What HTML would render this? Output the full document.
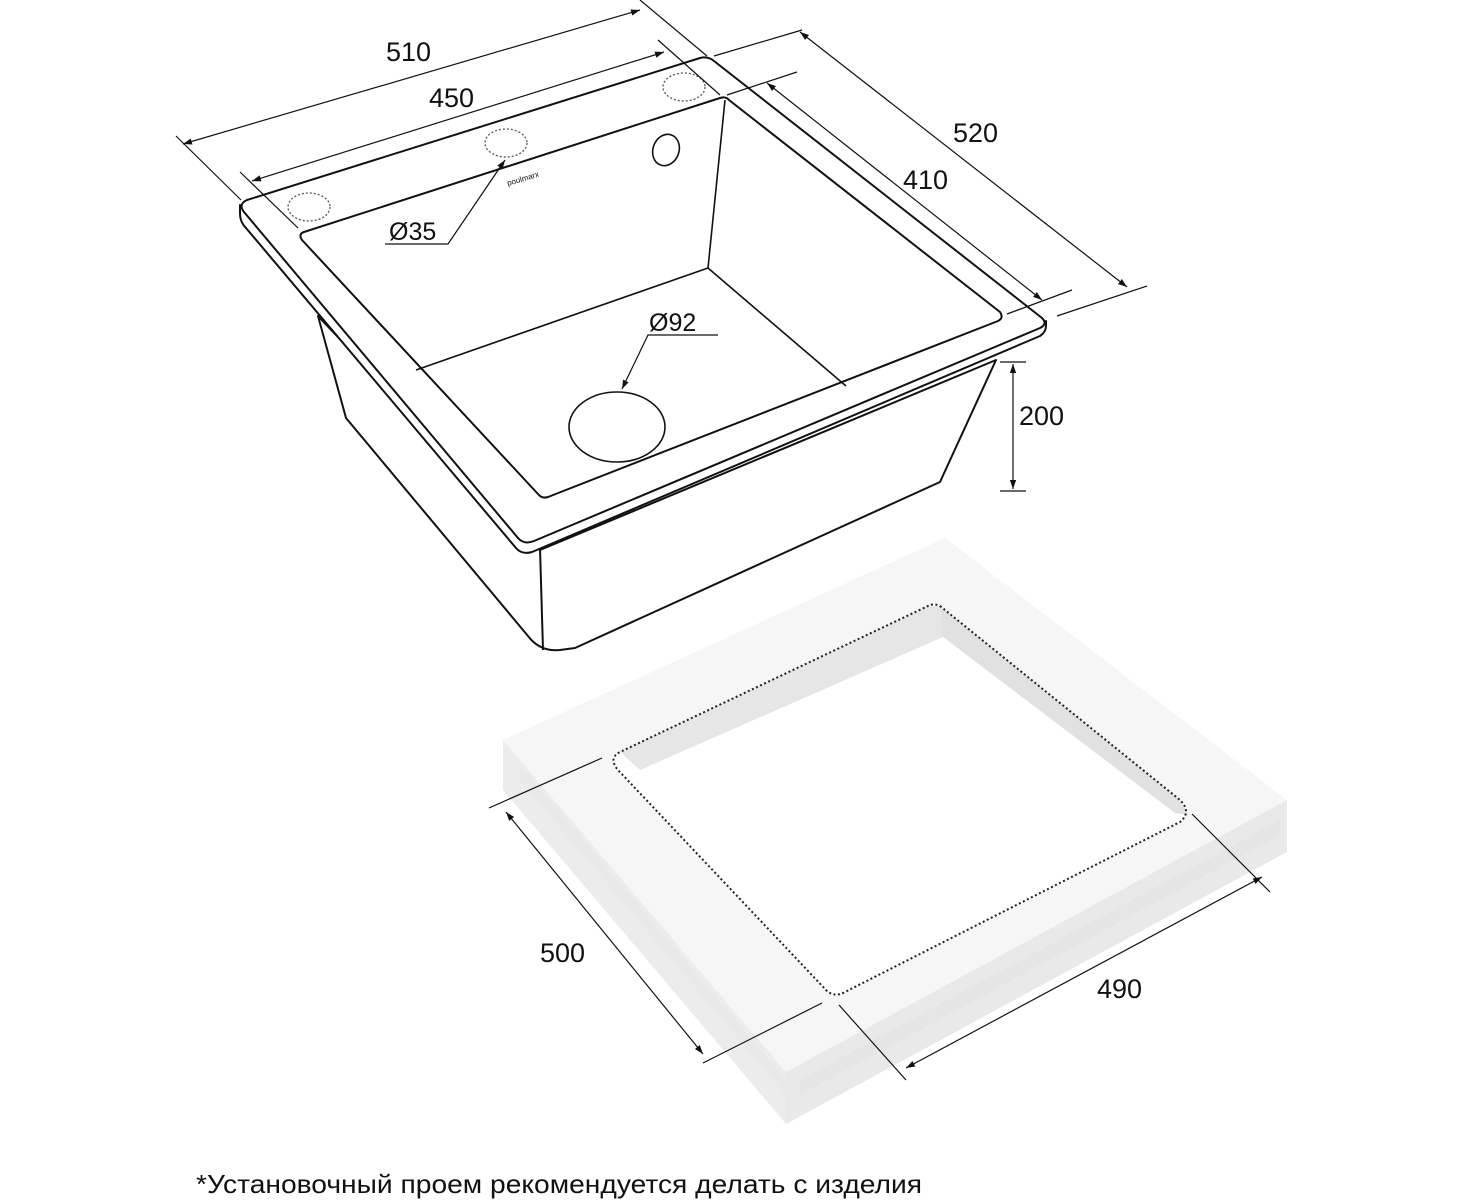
<!DOCTYPE html>
<html><head><meta charset="utf-8"><style>
html,body{margin:0;padding:0;background:#fff;}
svg{display:block;}
text{font-family:"Liberation Sans",sans-serif;fill:#111;}
</style></head><body>
<svg width="1467" height="1200" viewBox="0 0 1467 1200" xmlns="http://www.w3.org/2000/svg">
<defs>
<marker id="a" viewBox="0 0 10 10" refX="10" refY="5" markerWidth="9" markerHeight="9" orient="auto-start-reverse" markerUnits="userSpaceOnUse"><path d="M0,1.5 L10,5 L0,8.5 z" fill="#111"/></marker>
</defs>

<!-- countertop -->
<polygon points="503,740 945,538 1287,800 786,1072" fill="#f6f6f6"/>
<polygon points="503,740 786,1072 786,1124 503,790" fill="#ececec"/>
<polygon points="520,765 786,1080 786,1095 520,780" fill="#e5e5e5" opacity="0.5"/>
<polygon points="786,1072 1287,800 1287,852 786,1124" fill="#e9e9e9"/>
<polygon points="800,1080 1280,820 1280,835 800,1095" fill="#e2e2e2" opacity="0.5"/>
<!-- cutout -->
<path d="M940,606 L1180,800 Q1192,812 1180,822 L845,992 Q834,998 826,990 L618,770 Q608,758 620,752 L928,606 Q934,603 940,606 z" fill="#fff"/>
<polygon points="620,752 928,606 940,606 943,637 640,770" fill="#e6e6e6"/>
<polygon points="940,606 1180,800 1188,815 1175,813 943,637" fill="#e1e1e1"/>
<path d="M940,606 L1180,800 Q1192,812 1180,822 L845,992 Q834,998 826,990 L618,770 Q608,758 620,752 L928,606 Q934,603 940,606 z" fill="none" stroke="#222" stroke-width="2" stroke-dasharray="2,2.5"/>

<!-- countertop dims -->
<g stroke="#111" stroke-width="1.2" fill="none">
<line x1="489" y1="808" x2="602" y2="758"/>
<line x1="703" y1="1063" x2="822" y2="1003"/>
<line x1="506" y1="812" x2="703" y2="1054" marker-start="url(#a)" marker-end="url(#a)"/>
<line x1="839" y1="1005" x2="906" y2="1080"/>
<line x1="1192" y1="814" x2="1270" y2="892"/>
<line x1="906" y1="1068" x2="1262" y2="877" marker-start="url(#a)" marker-end="url(#a)"/>
</g>
<text x="540" y="962" font-size="27">500</text>
<text x="1097" y="998" font-size="27">490</text>

<!-- sink body -->
<g stroke="#111" stroke-width="2" fill="#fff" stroke-linejoin="round">
<path d="M318,316 L346,418 L528,636 Q540,652 560,650 L575,648 L940,482 L996,360 L540,550 z"/>
<line x1="540" y1="548" x2="543" y2="650"/>
<path d="M240,205 L240,214 Q240,222 246,228 L516,548 Q522,555 532,552 L1040,336 Q1046,332 1046,326 L1046,321 L520,540 z"/>
<path d="M247,200 L700,58 Q708,56 714,61 L1042,318 Q1048,324 1040,328 L534,541 Q524,545 518,538 L244,212 Q238,204 247,200 z"/>
<path d="M304,232 L720,98 Q726,96 729,100 L1000,312 Q1004,318 998,321 L548,497 Q542,499 538,494 L302,240 Q298,234 304,232 z"/>
</g>
<g stroke="#111" stroke-width="1.6" fill="none">
<line x1="725" y1="100" x2="708" y2="268"/>
<line x1="708" y1="268" x2="416" y2="370"/>
<line x1="708" y1="268" x2="846" y2="386"/>
<ellipse cx="617" cy="427" rx="48" ry="35"/>
<ellipse cx="666" cy="150" rx="13" ry="16" transform="rotate(20 666 150)"/>
</g>
<g stroke="#555" stroke-width="1.3" fill="none" stroke-dasharray="2,2">
<ellipse cx="309" cy="207" rx="21" ry="14"/>
<ellipse cx="506" cy="143" rx="21" ry="14"/>
<ellipse cx="684" cy="87" rx="21" ry="14"/>
</g>
<text x="508" y="186" font-size="8" transform="rotate(-17 508 186)" fill="#333">poulmarx</text>

<!-- sink dims -->
<g stroke="#111" stroke-width="1.2" fill="none">
<line x1="176" y1="136" x2="241" y2="200"/>
<line x1="640" y1="0" x2="707" y2="56"/>
<line x1="183" y1="144" x2="640" y2="10" marker-start="url(#a)" marker-end="url(#a)"/>
<line x1="240" y1="172" x2="298" y2="228"/>
<line x1="658" y1="40" x2="720" y2="95"/>
<line x1="252" y1="181" x2="664" y2="52" marker-start="url(#a)" marker-end="url(#a)"/>
<line x1="714" y1="56" x2="802" y2="30"/>
<line x1="1057" y1="316" x2="1147" y2="286"/>
<line x1="800" y1="32" x2="1127" y2="287" marker-start="url(#a)" marker-end="url(#a)"/>
<line x1="727" y1="95" x2="797" y2="72"/>
<line x1="1007" y1="314" x2="1072" y2="290"/>
<line x1="767" y1="83" x2="1042" y2="300" marker-start="url(#a)" marker-end="url(#a)"/>
<line x1="1000" y1="362" x2="1026" y2="362"/>
<line x1="1000" y1="491" x2="1026" y2="491"/>
<line x1="1013" y1="364" x2="1013" y2="489" marker-start="url(#a)" marker-end="url(#a)"/>
<polyline points="385,244 448,244 505,160" marker-end="url(#a)"/>
<polyline points="718,335 648,335 622,389" marker-end="url(#a)"/>
</g>
<text x="386" y="61" font-size="27">510</text>
<text x="429" y="107" font-size="27">450</text>
<text x="953" y="142" font-size="27">520</text>
<text x="903" y="189" font-size="27">410</text>
<text x="1019" y="425" font-size="27">200</text>
<text x="389" y="240" font-size="25">Ø35</text>
<text x="649" y="331" font-size="25">Ø92</text>

<text x="196" y="1193" font-size="26" textLength="726" lengthAdjust="spacingAndGlyphs" style="font-family:'Liberation Sans','Noto Sans CJK SC',sans-serif">*Установочный проем рекомендуется делать с изделия</text>
</svg>
</body></html>
